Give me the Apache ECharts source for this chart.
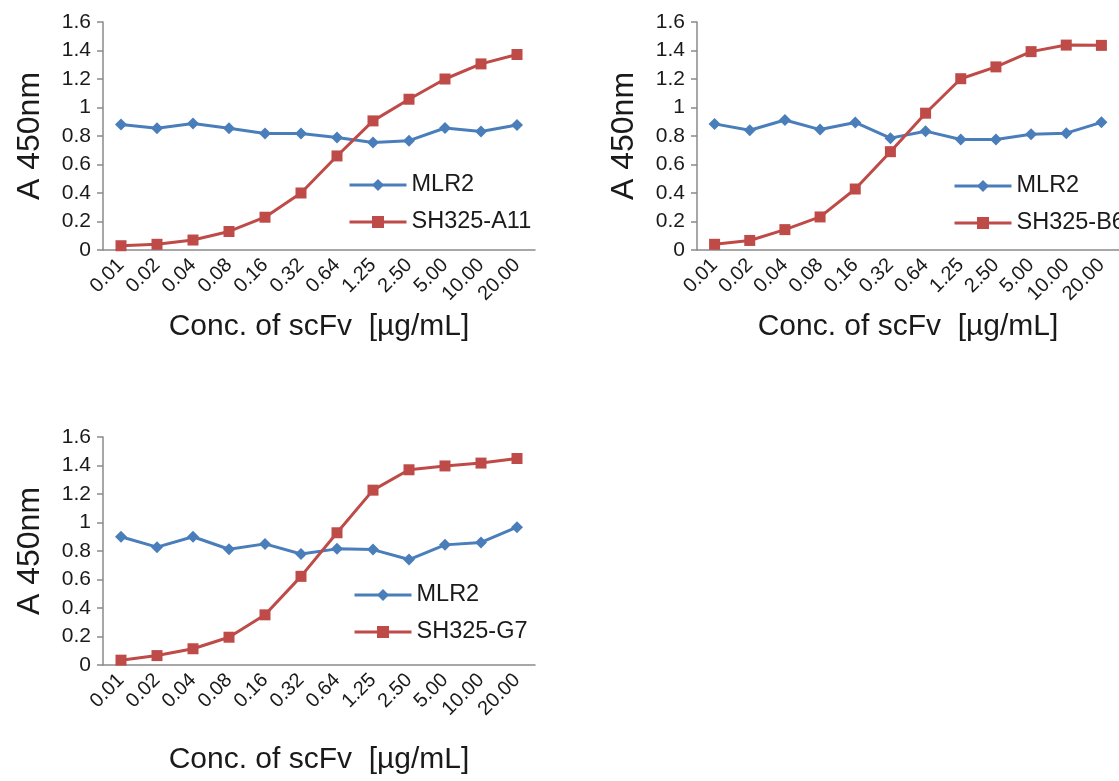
<!DOCTYPE html>
<html>
<head>
<meta charset="utf-8">
<script src="https://cdn.jsdelivr.net/npm/echarts@6/dist/echarts.min.js"></script>
<style>
html,body{margin:0;padding:0;background:#fff;}
#c{width:1119px;height:781px;}
</style>
</head>
<body>
<div id="c"></div>
<script>
const categories = ['0.01','0.02','0.04','0.08','0.16','0.32','0.64','1.25','2.50','5.00','10.00','20.00'];
const mlr2_A = [0.88, 0.855, 0.888, 0.855, 0.818, 0.818, 0.79, 0.754, 0.767, 0.856, 0.831, 0.877];
const sh325_A11 = [0.03, 0.04, 0.07, 0.13, 0.23, 0.40, 0.66, 0.906, 1.058, 1.20, 1.306, 1.372];
const mlr2_B = [0.885, 0.84, 0.912, 0.845, 0.895, 0.785, 0.834, 0.775, 0.776, 0.812, 0.82, 0.896];
const sh325_B6 = [0.04, 0.067, 0.143, 0.232, 0.428, 0.69, 0.96, 1.202, 1.285, 1.392, 1.438, 1.436];
const mlr2_G = [0.90, 0.827, 0.90, 0.812, 0.85, 0.779, 0.815, 0.81, 0.74, 0.843, 0.86, 0.967];
const sh325_G7 = [0.034, 0.066, 0.114, 0.195, 0.352, 0.622, 0.928, 1.227, 1.37, 1.397, 1.417, 1.449];
const yTicks = {min: 0, max: 1.6, interval: 0.2};

const FONT = '"Liberation Sans", Arial, sans-serif';
const BLUE = '#4A7EBB';
const RED = '#BE4B48';
const AXIS = '#8a8a8a';
const TEXT = '#1a1a1a';
const XTITLE = 'Conc. of scFv  [µg/mL]';
const YTITLE = 'A 450nm';

const grids = [
  {left: 103, top: 22, width: 432, height: 228},
  {left: 697, top: 22, width: 430, height: 228},
  {left: 103, top: 437, width: 432, height: 228}
];
const panels = [
  {blue: mlr2_A, red: sh325_A11, redName: 'SH325-A11', legend: {left: 343, top: 168}, xGap: 62},
  {blue: mlr2_B, red: sh325_B6, redName: 'SH325-B6', legend: {left: 948, top: 169}, xGap: 62},
  {blue: mlr2_G, red: sh325_G7, redName: 'SH325-G7', legend: {left: 348, top: 578}, xGap: 80}
];

const xAxes = [], yAxes = [], series = [], legends = [];
panels.forEach((p, i) => {
  xAxes.push({
    type: 'category', gridIndex: i, data: categories, boundaryGap: true,
    axisLine: {lineStyle: {color: AXIS, width: 1.5}},
    axisTick: {alignWithLabel: true, length: 6, lineStyle: {color: AXIS, width: 1.5}},
    axisLabel: {interval: 0, rotate: 45, color: TEXT, fontFamily: FONT, fontSize: 20, margin: 12},
    name: XTITLE, nameLocation: 'middle', nameGap: p.xGap,
    nameTextStyle: {color: TEXT, fontFamily: FONT, fontSize: 30}
  });
  yAxes.push({
    type: 'value', gridIndex: i, min: yTicks.min, max: yTicks.max, interval: yTicks.interval,
    splitLine: {show: false},
    axisLine: {show: true, lineStyle: {color: AXIS, width: 1.5}},
    axisTick: {show: true, length: 6, lineStyle: {color: AXIS, width: 1.5}},
    axisLabel: {color: TEXT, fontFamily: FONT, fontSize: 21, margin: 12},
    name: YTITLE, nameLocation: 'middle', nameGap: 57,
    nameTextStyle: {color: TEXT, fontFamily: FONT, fontSize: 32}
  });
  series.push({
    type: 'line', name: 'MLR2', xAxisIndex: i, yAxisIndex: i, data: p.blue,
    symbol: 'diamond', symbolSize: 12, color: BLUE,
    lineStyle: {color: BLUE, width: 3}, itemStyle: {color: BLUE}
  });
  series.push({
    type: 'line', name: p.redName, xAxisIndex: i, yAxisIndex: i, data: p.red,
    symbol: 'rect', symbolSize: 11, color: RED,
    lineStyle: {color: RED, width: 3}, itemStyle: {color: RED}
  });
  legends.push({
    data: ['MLR2', p.redName], orient: 'vertical',
    left: p.legend.left, top: p.legend.top,
    itemWidth: 57, itemHeight: 15, itemGap: 13,
    lineStyle: {width: 3},
    textStyle: {color: TEXT, fontFamily: FONT, fontSize: 23.5},
    selectedMode: false
  });
});

const chart = echarts.init(document.getElementById('c'), null, {renderer: 'canvas'});
chart.setOption({
  animation: false,
  backgroundColor: '#fff',
  grid: grids,
  xAxis: xAxes,
  yAxis: yAxes,
  legend: legends,
  series: series
});
</script>
</body>
</html>
